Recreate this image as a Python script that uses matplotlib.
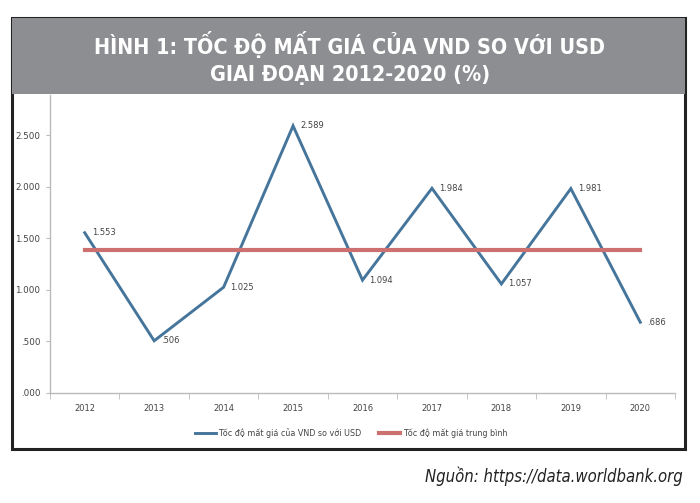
#!/usr/bin/env python3
"""Tốc độ mất giá của VND so với USD, 2012-2020."""

import matplotlib.pyplot as plt
from matplotlib import font_manager
from matplotlib.patches import Rectangle

years = ["2012", "2013", "2014", "2015", "2016", "2017", "2018", "2019", "2020"]
rate = [1.553, 0.506, 1.025, 2.589, 1.094, 1.984, 1.057, 1.981, 0.686]
avg_rate = 1.386

yticks = [0.0, 0.5, 1.0, 1.5, 2.0, 2.5]

title = "HÌNH 1: TỐC ĐỘ MẤT GIÁ CỦA VND SO VỚI USD\nGIAI ĐOẠN 2012-2020 (%)"
label_rate = "Tốc độ mất giá của VND so với USD"
label_avg = "Tốc độ mất giá trung bình"
source = "Nguồn: https://data.worldbank.org"


def find_narrow():
    """Look for some condensed face among the installed fonts."""
    for f in font_manager.fontManager.ttflist:
        n = (f.name + " " + f.fname).lower()
        if "narrow" in n or "condensed" in n:
            return f.name, f.stretch
    return None, None


NARROW_NAME, NARROW_STRETCH = find_narrow()
NARROW = [NARROW_NAME, "Roboto", "DejaVu Sans"] if NARROW_NAME else ["Roboto", "DejaVu Sans"]


def fmt(v):
    """Excel-like label: '.506', '1.553'."""
    s = "%.3f" % v
    return s[1:] if s.startswith("0") else s


def main():
    fig = plt.figure(figsize=(7, 5.03), dpi=100)

    # Frame: gray header band and black box below it.
    W, H = 700.0, 503.0
    fig.patches.append(Rectangle((12 / W, (H - 449) / H), 673 / W, 431 / H,
                                 transform=fig.transFigure, fill=False,
                                 edgecolor="#222222", linewidth=2.2, zorder=0))
    fig.patches.append(Rectangle((12 / W, (H - 94) / H), 673 / W, 76 / H,
                                 transform=fig.transFigure, facecolor="#8d8e92",
                                 edgecolor="none", zorder=1))
    stretch = NARROW_STRETCH if NARROW_STRETCH else "normal"
    fig.text(350 / W, (H - 58) / H, title, ha="center", va="center",
             color="white", fontsize=15.4 if NARROW_NAME else 13.5,
             fontweight="bold", family=NARROW, fontstretch=stretch,
             linespacing=1.45)

    ax = fig.add_axes([50 / W, (H - 393) / H, 625 / W, 298 / H])
    x = list(range(len(years)))

    ax.plot(x, rate, color="#46759b", linewidth=2.1, label=label_rate,
            solid_joinstyle="miter")
    ax.plot([x[0], x[-1]], [avg_rate, avg_rate], color="#cc7070",
            linewidth=3, label=label_avg)

    for xi, v in zip(x, rate):
        ax.annotate(fmt(v), (xi, v), xytext=(5, 0), textcoords="offset points",
                    ha="left", va="center", fontsize=6, color="#444444")

    ax.set_xlim(-0.5, len(years) - 0.5)
    ax.set_ylim(0, 2.888)
    ax.set_yticks(yticks)
    ax.set_yticklabels([fmt(v) for v in yticks])
    ax.set_xticks(x)
    ax.set_xticklabels(years)
    ax.set_xticks([i - 0.5 for i in range(len(years) + 1)], minor=True)
    ax.tick_params(axis="x", which="major", length=0, pad=8,
                   labelsize=6, labelcolor="#444444")
    ax.tick_params(axis="x", which="minor", length=4, color="#bbbbbb")
    ax.tick_params(axis="y", length=3, color="#bbbbbb", pad=4,
                   labelsize=6.3, labelcolor="#444444")
    for side in ("top", "right"):
        ax.spines[side].set_visible(False)
    for side in ("left", "bottom"):
        ax.spines[side].set_color("#bbbbbb")
        ax.spines[side].set_linewidth(1.0)

    fig.legend(loc="center", bbox_to_anchor=(351 / W, (H - 433) / H),
               ncol=2, frameon=False, fontsize=5.8, handlelength=2.6,
               columnspacing=2.2, handletextpad=0.3, labelcolor="#444444")

    fig.text(683 / W, (H - 476) / H, source, ha="right", va="center",
             fontsize=12 if NARROW_NAME else 11, style="italic",
             family=NARROW, fontstretch=stretch, color="#222222")

    fig.savefig("out.png", dpi=100)


if __name__ == "__main__":
    main()
